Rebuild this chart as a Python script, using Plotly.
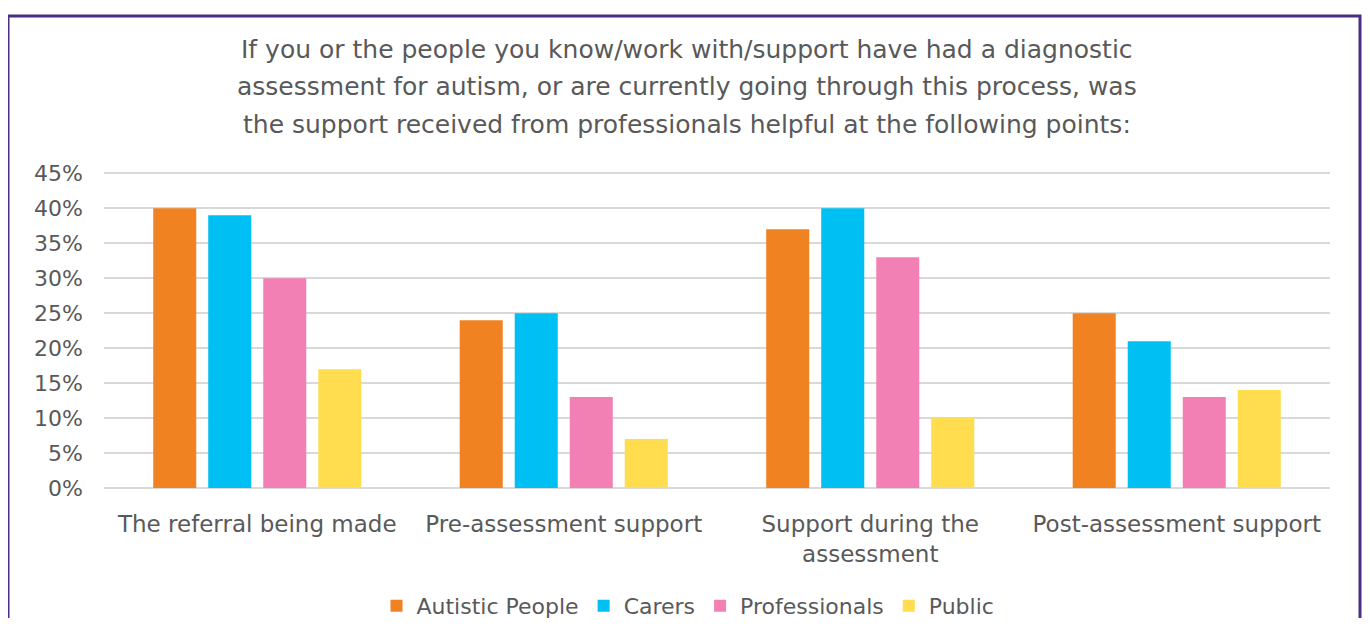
import plotly.graph_objects as go

categories = ["The referral being made", "Pre-assessment support",
              "Support during the<br>assessment", "Post-assessment support"]
series_names = ["Autistic People", "Carers", "Professionals", "Public"]
autistic = [40, 24, 37, 25]
carers = [39, 25, 40, 21]
professionals = [30, 13, 33, 13]
public = [17, 7, 10, 14]
colors = ["#F08222", "#00BFF3", "#F380B4", "#FFDD4F"]
y_ticks = [0, 5, 10, 15, 20, 25, 30, 35, 40, 45]
y_tick_text = [f"{v}%" for v in y_ticks]
title_lines = [
    "If you or the people you know/work with/support have had a diagnostic",
    "assessment for autism, or are currently going through this process, was",
    "the support received from professionals helpful at the following points:",
]

FONT = "DejaVu Sans"
GREY = "#595959"
OFF = 8  # page body margin

fig = go.Figure()
for name, vals, col in zip(series_names, [autistic, carers, professionals, public], colors):
    fig.add_trace(go.Bar(x=categories, y=vals, name=name,
                         marker=dict(color=col, line=dict(width=0))))

W, H = 1370 - 2 * OFF, 626 - 2 * OFF
L, R, T, B = 104 - OFF, W - (1330 - OFF), 172 - OFF, H - (488 - OFF)
pw, ph = W - L - R, H - T - B

def px(x):
    return (x - OFF - L) / pw

def py(y):
    return (H - B - (y - OFF)) / ph

annotations = []
for line, ypix in zip(title_lines, [50, 87, 124]):
    annotations.append(dict(text=line, x=px(687), y=py(ypix), xref="paper", yref="paper",
                            showarrow=False, xanchor="center", yanchor="middle",
                            font=dict(family=FONT, size=25, color=GREY)))

fig.update_layout(
    width=W, height=H,
    margin=dict(l=L, r=R, t=T, b=B, autoexpand=False),
    paper_bgcolor="white", plot_bgcolor="white",
    barmode="group", bargap=0.282, bargroupgap=0.218,
    font=dict(family=FONT, size=22, color=GREY),
    showlegend=True,
    legend=dict(orientation="h", x=px(688), xanchor="center", y=py(606), yanchor="middle",
                font=dict(family=FONT, size=22, color=GREY), itemwidth=30,
                traceorder="normal"),
    annotations=annotations,
    shapes=[dict(type="rect", xref="paper", yref="paper",
                 x0=px(8), x1=px(1360), y0=py(700), y1=py(16),
                 line=dict(color="#4B2E83", width=3), fillcolor="rgba(0,0,0,0)", layer="below")],
    xaxis=dict(showgrid=False, showline=False, ticks="", ticklabelstandoff=20,
               tickfont=dict(family=FONT, size=23, color=GREY)),
    yaxis=dict(range=[0, 45.2], tickvals=y_ticks, ticktext=y_tick_text, showgrid=True,
               gridcolor="#D9D9D9", gridwidth=2, zeroline=True, zerolinecolor="#D9D9D9",
               zerolinewidth=2, showline=False, ticks="", ticklabelstandoff=20,
               tickfont=dict(family=FONT, size=22, color=GREY)),
)

fig.write_html("out.html")
